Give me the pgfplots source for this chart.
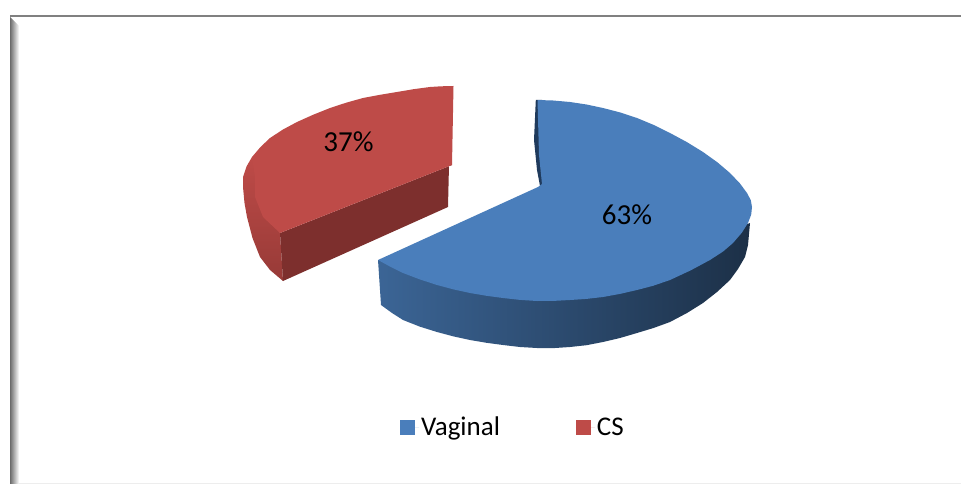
\documentclass[border=0pt]{standalone}
\usepackage{fontspec}
\setmainfont{Carlito}
\usepackage{pgfplots}
\pgfplotsset{compat=1.18}
\definecolor{bluetop}{HTML}{4A7EBB}
\definecolor{redtop}{HTML}{BE4B48}
\definecolor{redfront}{HTML}{7D2F2D}
\definecolor{redside}{HTML}{973A37}
\definecolor{blueinner}{HTML}{1F3A5C}
\begin{document}
\begin{tikzpicture}[x=1pt,y=1pt]
\begin{axis}[
  scale only axis, width=961pt, height=484pt,
  xmin=0, xmax=961, ymin=0, ymax=484, y dir=reverse,
  axis lines=none, clip=true,
  legend columns=2,
  legend cell align=left,
  legend style={draw=none, fill=none, at={(axis cs:400,427)}, anchor=west,
    font=\fontsize{27}{29}\selectfont, inner sep=0pt, outer sep=0pt,
    /tikz/every even column/.append style={column sep=74pt}},
  legend image code/.code={\fill[#1] (0pt,-7.5pt) rectangle (15pt,7.5pt);\path (0pt,0pt) -- (19pt,0pt);},
]
\coordinate (sw) at (axis cs:0,484);
\coordinate (ne) at (axis cs:961,0);
% frame
\addplot[draw=none, forget plot, left color=black!58, right color=white] coordinates {(10,17)(19,26)(19,484)(10,484)};
\addplot[draw=black!50, line width=2pt, forget plot] coordinates {(10,16.5)(961,16.5)};
\addplot[draw=black!7, line width=1pt, forget plot] coordinates {(18,483)(961,483)};
% red slice
\addplot[draw=none, forget plot, top color=redtop, bottom color=redside] coordinates {
 (252,157)(246.5,166.5)(243,177)(243,187)(244.5,203)(247,217)(252.5,238)(260,257)(270,270)(283,281)(280,233)(262,180)};
\addplot[fill=redfront, draw=none, forget plot] coordinates {
 (280,233)(283,281)(448,207)(449,165)(452,165)};
\addplot[fill=redtop, draw=none, forget plot] coordinates {
 (453.5,86)(441,86.3)(430,87)(413.5,89.2)(397,92)(380,94.8)(363,98)(346.5,102.6)(330,108)(313.5,114.6)(297,122)(283,129.5)(270,138)(260.5,147)(252,157)(255,177)(255,197)(263,217)(280,233)(452,165)};
% blue slice
\addplot[draw=none, forget plot, left color=bluetop!80!black, middle color=bluetop!55!black, right color=bluetop!38!black] coordinates {
 (378,260)(381,305)(392,313)(403,320)(420,326.7)(437,332)(453.5,336.4)(470,340)(486.5,342.8)(503,345)(520,347)(537,348)(553.5,348.1)(570,347)(586.5,345.2)(603,342)(620,338)(637,333)(653.5,328)(670,322)(687,313)(703,303)(717,292)(730,280)(738,269)(745,257)(748,245)(750,223)(733,230)(600,270)(450,260)};
\addplot[fill=blueinner, draw=none, forget plot] coordinates {
 (535.8,100)(534,140)(537,170)(540,186)(545,187)(542,100)};
\addplot[fill=bluetop, draw=none, forget plot] coordinates {
 (537.5,100)(553,100.5)(570,102)(586.5,104.5)(603,108)(620,112.4)(637,118)(653.6,124.9)(670,133)(686.9,142.1)(703,152)(717.5,162.4)(730,173)(739.9,183.4)(747,193)(750.8,200.2)(752,207)(751.2,214.6)(748,223)(741.7,232.9)(733,243)(723.1,251.5)(710,260)(690.6,270.4)(670,280)(653.1,285.8)(637,290)(620,293.9)(603,297)(586.5,298.9)(570,300)(553.5,300.9)(537,301)(520,299.9)(503,298)(486.5,295.8)(470,293)(453.5,289.4)(437,285)(419.5,279.3)(403,273)(390.5,266.8)(378,260)(538,187)(542,184)(539,155)};
% labels
\node[font=\fontsize{29}{31}\selectfont, text=black] at (axis cs:348.5,142) {37\%};
\node[font=\fontsize{29}{31}\selectfont, text=black] at (axis cs:627,215) {63\%};
% legend
\addlegendimage{fill=bluetop, draw=none}
\addlegendentry{Vaginal}
\addlegendimage{fill=redtop, draw=none}
\addlegendentry{CS}
\end{axis}
\pgfresetboundingbox
\useasboundingbox (sw) rectangle (ne);
\end{tikzpicture}
\end{document}
